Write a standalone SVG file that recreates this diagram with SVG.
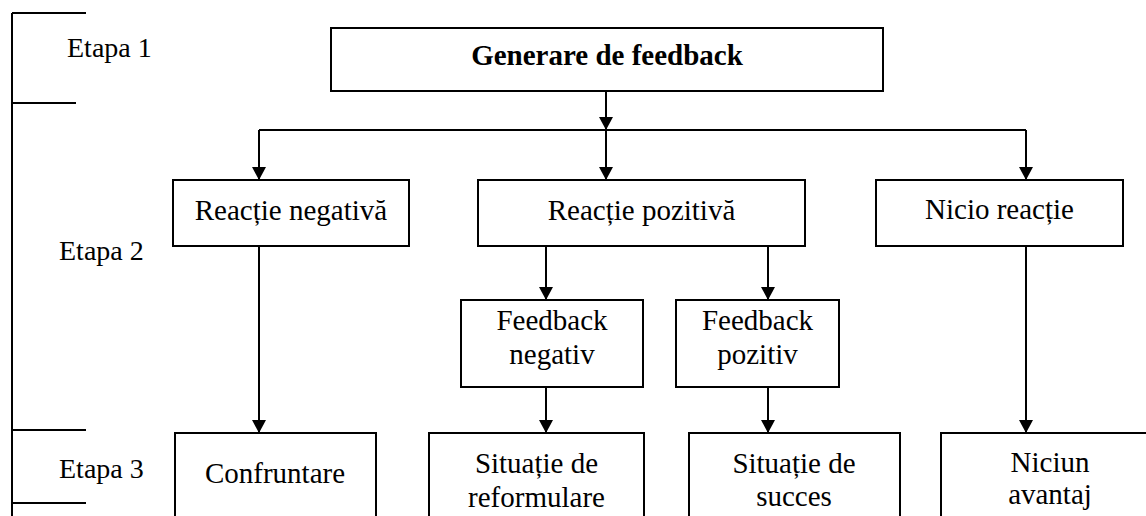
<svg xmlns="http://www.w3.org/2000/svg" width="1146" height="516" viewBox="0 0 1146 516">
<style>
.box{fill:#fff;stroke:#000;stroke-width:2}
.ln{fill:none;stroke:#000;stroke-width:2}
text{font-family:'Liberation Serif','DejaVu Serif',serif;fill:#000}
.t{font-size:29px;text-anchor:middle}
.e{font-size:28px}
.b{font-weight:bold}
</style>
<defs>
<marker id="ah" viewBox="0 0 13 14" refX="13" refY="7" markerWidth="13" markerHeight="14" markerUnits="userSpaceOnUse" orient="auto">
<path d="M0,0 L13,7 L0,14 z" fill="#000"/>
</marker>
</defs>
<rect width="1146" height="516" fill="#fff"/>
<g id="stages">
<path class="ln" d="M12,13 V516 M12,13 H86 M12,103 H76 M12,430 H86 M12,503 H86"/>
<text class="e" x="67" y="57">Etapa 1</text>
<text class="e" x="59" y="260">Etapa 2</text>
<text class="e" x="59" y="478">Etapa 3</text>
</g>
<g id="connectors">
<path class="ln" d="M606,91 V130" marker-end="url(#ah)"/>
<path class="ln" d="M259,130 H1026"/>
<path class="ln" d="M259,130 V180" marker-end="url(#ah)"/>
<path class="ln" d="M606,130 V180" marker-end="url(#ah)"/>
<path class="ln" d="M1026,130 V180" marker-end="url(#ah)"/>
<path class="ln" d="M259,246 V433" marker-end="url(#ah)"/>
<path class="ln" d="M546,246 V300" marker-end="url(#ah)"/>
<path class="ln" d="M768,246 V300" marker-end="url(#ah)"/>
<path class="ln" d="M546,387 V433" marker-end="url(#ah)"/>
<path class="ln" d="M768,387 V433" marker-end="url(#ah)"/>
<path class="ln" d="M1026,246 V433" marker-end="url(#ah)"/>
</g>
<g id="n-generare">
<rect class="box" x="331" y="28" width="552" height="63"/>
<text class="t b" x="607" y="65">Generare de feedback</text>
</g>
<g id="n-reactie-negativa">
<rect class="box" x="173" y="180" width="236" height="66"/>
<text class="t" x="291" y="220">Reacție negativă</text>
</g>
<g id="n-reactie-pozitiva">
<rect class="box" x="478" y="180" width="327" height="66"/>
<text class="t" x="641.5" y="219.5">Reacție pozitivă</text>
</g>
<g id="n-nicio-reactie">
<rect class="box" x="876" y="180" width="247" height="66"/>
<text class="t" x="999.5" y="219">Nicio reacție</text>
</g>
<g id="n-feedback-negativ">
<rect class="box" x="461" y="300" width="182" height="87"/>
<text class="t" x="552" y="330">Feedback</text>
<text class="t" x="552" y="364">negativ</text>
</g>
<g id="n-feedback-pozitiv">
<rect class="box" x="676" y="300" width="163" height="87"/>
<text class="t" x="757.5" y="330">Feedback</text>
<text class="t" x="757.5" y="364">pozitiv</text>
</g>
<g id="n-confruntare">
<rect class="box" x="175" y="433" width="201" height="100"/>
<text class="t" x="275" y="483">Confruntare</text>
</g>
<g id="n-reformulare">
<rect class="box" x="429" y="433" width="215" height="100"/>
<text class="t" x="536.5" y="473">Situație de</text>
<text class="t" x="536.5" y="507">reformulare</text>
</g>
<g id="n-succes">
<rect class="box" x="689" y="433" width="211" height="100"/>
<text class="t" x="794" y="473">Situație de</text>
<text class="t" x="794" y="506">succes</text>
</g>
<g id="n-niciun-avantaj">
<rect class="box" x="941" y="433" width="220" height="100"/>
<text class="t" x="1050" y="472">Niciun</text>
<text class="t" x="1050" y="504">avantaj</text>
</g>
</svg>
